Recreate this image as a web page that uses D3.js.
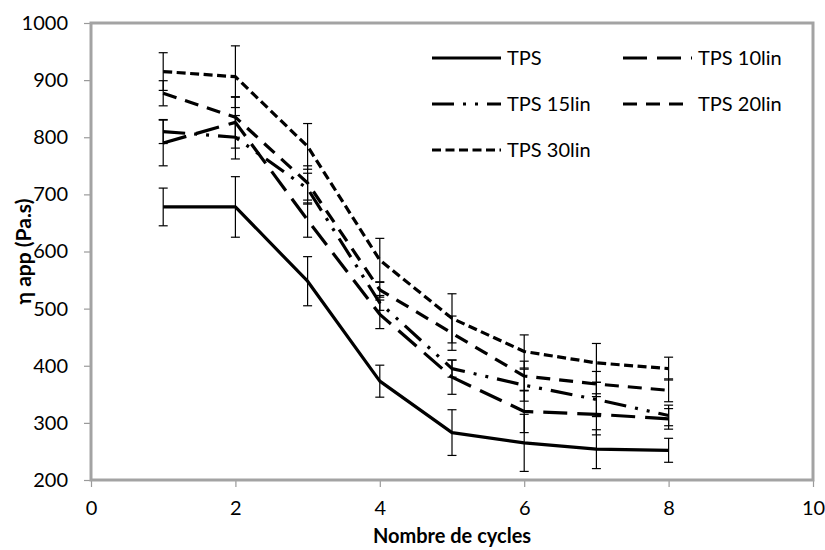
<!DOCTYPE html>
<html>
<head>
<meta charset="utf-8">
<script src="https://cdn.jsdelivr.net/npm/d3@7"></script>
<style>
  body { margin: 0; background: #fff; }
  text { font-family: Lato, "Open Sans", sans-serif; fill: #000; }
</style>
</head>
<body>
<svg id="chart" width="825" height="550"></svg>
<script>
// Apparent viscosity vs. number of cycles, mean values with error bars
const cycles = [1, 2, 3, 4, 5, 6, 7, 8];
const seriesNames = ["TPS", "TPS 10lin", "TPS 15lin", "TPS 20lin", "TPS 30lin"];
const tps      = [678, 678, 548, 373, 283, 265, 254, 252];
const tpsErr   = [33, 53, 43, 28, 40, 50, 34, 21];
const tps10    = [790, 826, 655, 490, 380, 320, 315, 307];
const tps10Err = [40, 45, 30, 25, 30, 37, 36, 18];
const tps15    = [810, 800, 710, 510, 395, 366, 341, 313];
const tps15Err = [21, 38, 27, 13, 15, 28, 30, 18];
const tps20    = [877, 835, 720, 533, 457, 382, 368, 357];
const tps20Err = [22, 35, 30, 13, 30, 26, 22, 20];
const tps30    = [915, 906, 784, 585, 483, 425, 405, 395];
const tps30Err = [33, 54, 40, 38, 43, 29, 34, 20];
const xTickValues = [0, 2, 4, 6, 8, 10];
const yTickValues = [200, 300, 400, 500, 600, 700, 800, 900, 1000];

const values = [tps, tps10, tps15, tps20, tps30];
const errors = [tpsErr, tps10Err, tps15Err, tps20Err, tps30Err];
// line dash styles per series
const dashes = [null, "24,10", "22,9,3,9,3,9", "14,9", "9,4.5"];

const svg = d3.select("#chart");
const plot = { left: 91, right: 813, top: 23, bottom: 480 };

const x = d3.scaleLinear().domain([0, 10]).range([plot.left, plot.right]);
const y = d3.scaleLinear().domain([200, 1000]).range([plot.bottom, plot.top]);

// axes
const yAxis = svg.append("g")
  .attr("transform", `translate(${plot.left},0)`)
  .call(d3.axisLeft(y).tickValues(yTickValues).tickFormat(d3.format("d"))
    .tickSize(7).tickPadding(16).tickSizeOuter(0));
const xAxis = svg.append("g")
  .attr("transform", `translate(0,${plot.bottom})`)
  .call(d3.axisBottom(x).tickValues(xTickValues).tickFormat(d3.format("d"))
    .tickSize(7).tickPadding(14).tickSizeOuter(0));
[xAxis, yAxis].forEach(g => {
  g.select(".domain").remove();
  g.selectAll(".tick line").attr("stroke", "#9a9a9a").attr("stroke-width", 1.2);
  g.selectAll(".tick text").style("font-size", "20px").style("font-family", "Lato, sans-serif").attr("fill", "#000");
});

// plot frame
svg.append("rect")
  .attr("x", plot.left).attr("y", plot.top)
  .attr("width", plot.right - plot.left).attr("height", plot.bottom - plot.top)
  .attr("fill", "none").attr("stroke", "#a3a3a3").attr("stroke-width", 3);

// error bars
const capHalf = 4.5;
values.forEach((vals, si) => {
  const g = svg.append("g").attr("class", "errbars").attr("stroke", "#000").attr("stroke-width", 1.2);
  cycles.forEach((c, i) => {
    const lo = vals[i] - errors[si][i], hi = vals[i] + errors[si][i];
    const cx = x(c);
    g.append("line").attr("x1", cx).attr("x2", cx).attr("y1", y(lo)).attr("y2", y(hi));
    g.append("line").attr("x1", cx - capHalf).attr("x2", cx + capHalf).attr("y1", y(lo)).attr("y2", y(lo));
    g.append("line").attr("x1", cx - capHalf).attr("x2", cx + capHalf).attr("y1", y(hi)).attr("y2", y(hi));
  });
});

// series lines
const line = d3.line().x(d => x(d[0])).y(d => y(d[1]));
values.forEach((vals, si) => {
  svg.append("path")
    .datum(cycles.map((c, i) => [c, vals[i]]))
    .attr("d", line)
    .attr("fill", "none")
    .attr("stroke", "#000")
    .attr("stroke-width", 3.2)
    .attr("stroke-linejoin", "round")
    .attr("stroke-dasharray", dashes[si]);
});

// legend
const legendPos = [[432, 58], [623, 58], [432, 104], [623, 104], [432, 150]];
seriesNames.forEach((name, si) => {
  const [lx, ly] = legendPos[si];
  const g = svg.append("g").attr("transform", `translate(${lx},${ly})`);
  g.append("line").attr("x1", 0).attr("x2", 69).attr("y1", 0).attr("y2", 0)
    .attr("stroke", "#000").attr("stroke-width", 3.2).attr("stroke-dasharray", dashes[si]);
  g.append("text").attr("x", 75).attr("y", 0).attr("dy", "0.35em")
    .style("font-size", "20px").text(name);
});

// axis titles
svg.append("text")
  .attr("x", (plot.left + plot.right) / 2).attr("y", 543)
  .attr("text-anchor", "middle")
  .style("font-size", "20px").style("font-weight", "bold")
  .text("Nombre de cycles");
svg.append("text")
  .attr("transform", `translate(31,${(plot.top + plot.bottom) / 2}) rotate(-90)`)
  .attr("text-anchor", "middle")
  .style("font-size", "21px").style("font-weight", "bold")
  .text("η app (Pa.s)");
</script>
</body>
</html>
